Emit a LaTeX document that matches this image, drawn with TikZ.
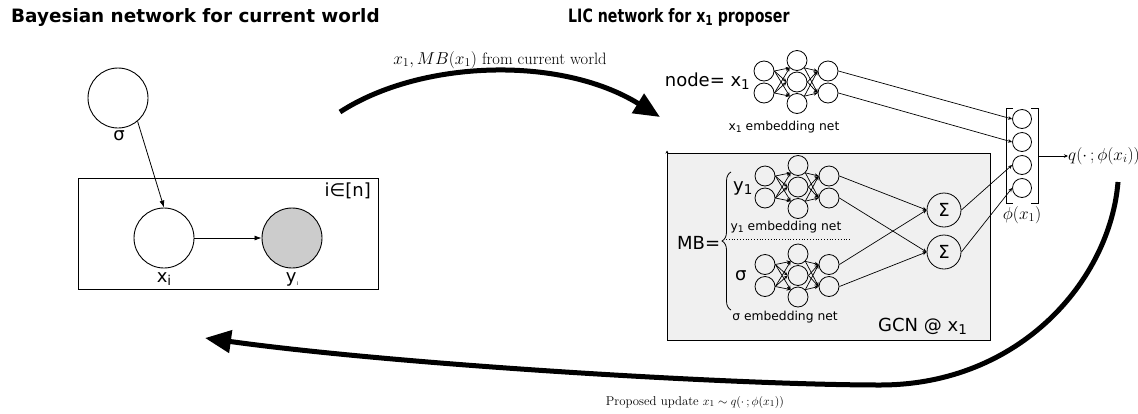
\documentclass[tikz,border=0pt]{standalone}
\usepackage{fontspec}
\setsansfont{DejaVu Sans}
\usepackage{graphicx}
\usetikzlibrary{arrows.meta,decorations.pathreplacing}

% lowered, smaller index as used in the sans labels
\newcommand{\dsub}[1]{\raisebox{-0.35ex}{\scalebox{0.75}{#1}}}

% small 2-3-2 embedding network: name, x of first layer, y of middle
\newcommand{\embnet}[3]{%
  \foreach \k/\dy in {1/-11,2/11}{
    \node[neuron] (#1-a\k) at ({#2},{#3+\dy}) {};
    \node[neuron] (#1-c\k) at ({#2+64},{#3+\dy}) {};
  }
  \foreach \k/\dy in {1/-21.5,2/0,3/21.5}{
    \node[neuron] (#1-b\k) at ({#2+33},{#3+\dy}) {};
  }
  \foreach \k in {1,2}{
    \draw[syn] (#1-a\k.east) -- (#1-b1.south west);
    \draw[syn] (#1-a\k.east) -- (#1-b2.west);
    \draw[syn] (#1-a\k.east) -- (#1-b3.north west);
    \draw[syn] (#1-b1.south east) -- (#1-c\k.west);
    \draw[syn] (#1-b2.east) -- (#1-c\k.west);
    \draw[syn] (#1-b3.north east) -- (#1-c\k.west);
  }
}

\tikzset{
  titlefont/.style={font=\sffamily\bfseries\fontsize{18.4}{21}\selectfont, inner sep=0pt},
  big/.style={font=\sffamily\fontsize{18}{21}\selectfont, inner sep=0pt},
  small/.style={font=\sffamily\fontsize{12.3}{14}\selectfont, inner sep=0pt},
  mlabel/.style={font=\fontsize{16.5}{19}\selectfont, inner sep=0pt},
  bnode/.style={circle, draw, line width=0.9pt, minimum size=60pt, inner sep=0pt},
  neuron/.style={circle, draw, line width=0.8pt, minimum size=20pt, inner sep=0pt},
  outneuron/.style={circle, draw, line width=0.8pt, minimum size=19pt, inner sep=0pt},
  sumnode/.style={circle, draw, line width=0.8pt, minimum size=34pt, inner sep=0pt,
    font=\sffamily\fontsize{18}{21}\selectfont},
  syn/.style={line width=0.7pt, -{Stealth[length=4pt,width=3.5pt]}},
  link/.style={line width=0.8pt, -{Latex[length=7pt,width=5pt]}},
  bigarrow/.style={line width=5pt, -{Triangle[length=26pt,width=22pt]}},
}

\begin{document}
\begin{tikzpicture}[x=1pt,y=-1pt]
\useasboundingbox (0,0) rectangle (1138,413);

% ---------- titles ----------
\node[titlefont, anchor=base west] (t1) at (11,22) {Bayesian network for current world};
\node[titlefont, anchor=base west] (t2) at (568,22)
  {\scalebox{0.77}[1]{LIC network for x\dsub{1} proposer}};

% ---------- Bayesian network ----------
\node[draw, line width=0.9pt, anchor=north west, minimum width=300pt,
      minimum height=111pt, inner sep=0pt] (plate) at (78,178) {};
\node[big, anchor=base east] (plbl) at (371,196) {i∈[n]};

\node[bnode] (sigma) at (118,98) {};
\node[bnode] (xi) at (164,238) {};
\node[bnode, fill=gray!40] (yi) at (292,238) {};
\node[big, anchor=base] (sigmalbl) at (119,140) {σ};
\node[big, anchor=base] (xilbl) at (164,282) {x\dsub{i}};
\node[big, anchor=base] (yilbl) at (292,282) {y\dsub{\scriptsize i}};

\draw[link] (sigma.-50) -- (xi.north);
\draw[link] (xi) -- (yi);

% ---------- forward arrow ----------
\coordinate (fwdS) at (340,112);
\coordinate (fwdE) at (660,117);
\draw[bigarrow] (fwdS) .. controls (420,60) and (560,55) .. (fwdE);
\node[mlabel, anchor=base] (fwdlbl) at (500,64) {$x_1, MB(x_1)$ from current world};

% ---------- GCN block ----------
\node[draw, line width=0.8pt, fill=gray!12, anchor=north west, minimum width=323pt,
      minimum height=187pt, inner sep=0pt] (gcn) at (667,153) {};
\draw[line width=0.8pt, -{Stealth[length=3pt,width=3pt]}]
  (gcn.south west) -- ([yshift=2.5pt]gcn.north west);

% node embedding net
\node[big, anchor=base east] (nodelbl) at (750,86) {node= x\dsub{1}};
\embnet{ex}{764}{82}
\node[small, anchor=base] (exlbl) at (784,130) {x\dsub{1} embedding net};

% Markov blanket
\node[big, anchor=base west] (mblbl) at (677,249) {MB=};
\draw[line width=0.8pt, decorate, decoration={brace, amplitude=9pt}] (731,310) -- (731,172);

\node[big, anchor=base west] (y1lbl) at (733,191) {y\dsub{1}};
\embnet{ey}{765}{187}
\node[small, anchor=base] (eylbl) at (786,230) {y\dsub{1} embedding net};
\draw[dotted, line width=0.8pt] (726,239) -- (851,239);

\node[big, anchor=base west] (slbl) at (735,280) {σ};
\embnet{es}{765}{275.5}
\node[small, anchor=base] (eslbl) at (785,320) {σ embedding net};

\node[big, anchor=base west] (gcnlbl) at (878,331) {GCN @ x\dsub{1}};

% aggregation
\node[sumnode] (s1) at (944,210) {Σ};
\node[sumnode] (s2) at (944,252) {Σ};
\draw[syn] (ey-c1.east) -- (s1.west);
\draw[syn] (ey-c2.east) -- (s2.west);
\draw[syn] (es-c1.east) -- (s1.west);
\draw[syn] (es-c2.east) -- (s2.west);

% ---------- output vector ----------
\node[outneuron] (o1) at (1022,119) {};
\node[outneuron] (o2) at (1022,142) {};
\node[outneuron] (o3) at (1022,165) {};
\node[outneuron] (o4) at (1022,188) {};
\draw[line width=0.8pt] (1013,108) -- (1006,108) -- (1006,203) -- (1013,203);
\draw[line width=0.8pt] (1031,108) -- (1038,108) -- (1038,203) -- (1031,203);
\coordinate (vecE) at (1038,156);
\node[mlabel, anchor=base] (philbl) at (1022,219) {$\phi(x_1)$};

\draw[syn] (ex-c1.east) -- (o1.west);
\draw[syn] (ex-c2.east) -- (o2.west);
\draw[syn] (s1.east) -- (o3.west);
\draw[syn] (s2.east) -- (o4.west);

\node[mlabel, anchor=west, font=\fontsize{17.5}{20}\selectfont] (qlbl) at (1068,156)
  {$q(\cdot\,;\phi(x_i))$};
\draw[syn] (vecE) -- (qlbl.west);

% ---------- proposal arrow ----------
\coordinate (bwdS) at (1118,182);
\coordinate (bwdM) at (880,385);
\coordinate (bwdE) at (205,338);
\draw[bigarrow] (bwdS) .. controls (1110,280) and (1020,385) .. (bwdM)
  .. controls (740,385) and (400,365) .. (bwdE);
\node[mlabel, anchor=base, font=\fontsize{12.8}{15}\selectfont] (bwdlbl) at (695,405)
  {Proposed update $x_1\sim q(\cdot\,;\phi(x_1))$};
\end{tikzpicture}
\end{document}
